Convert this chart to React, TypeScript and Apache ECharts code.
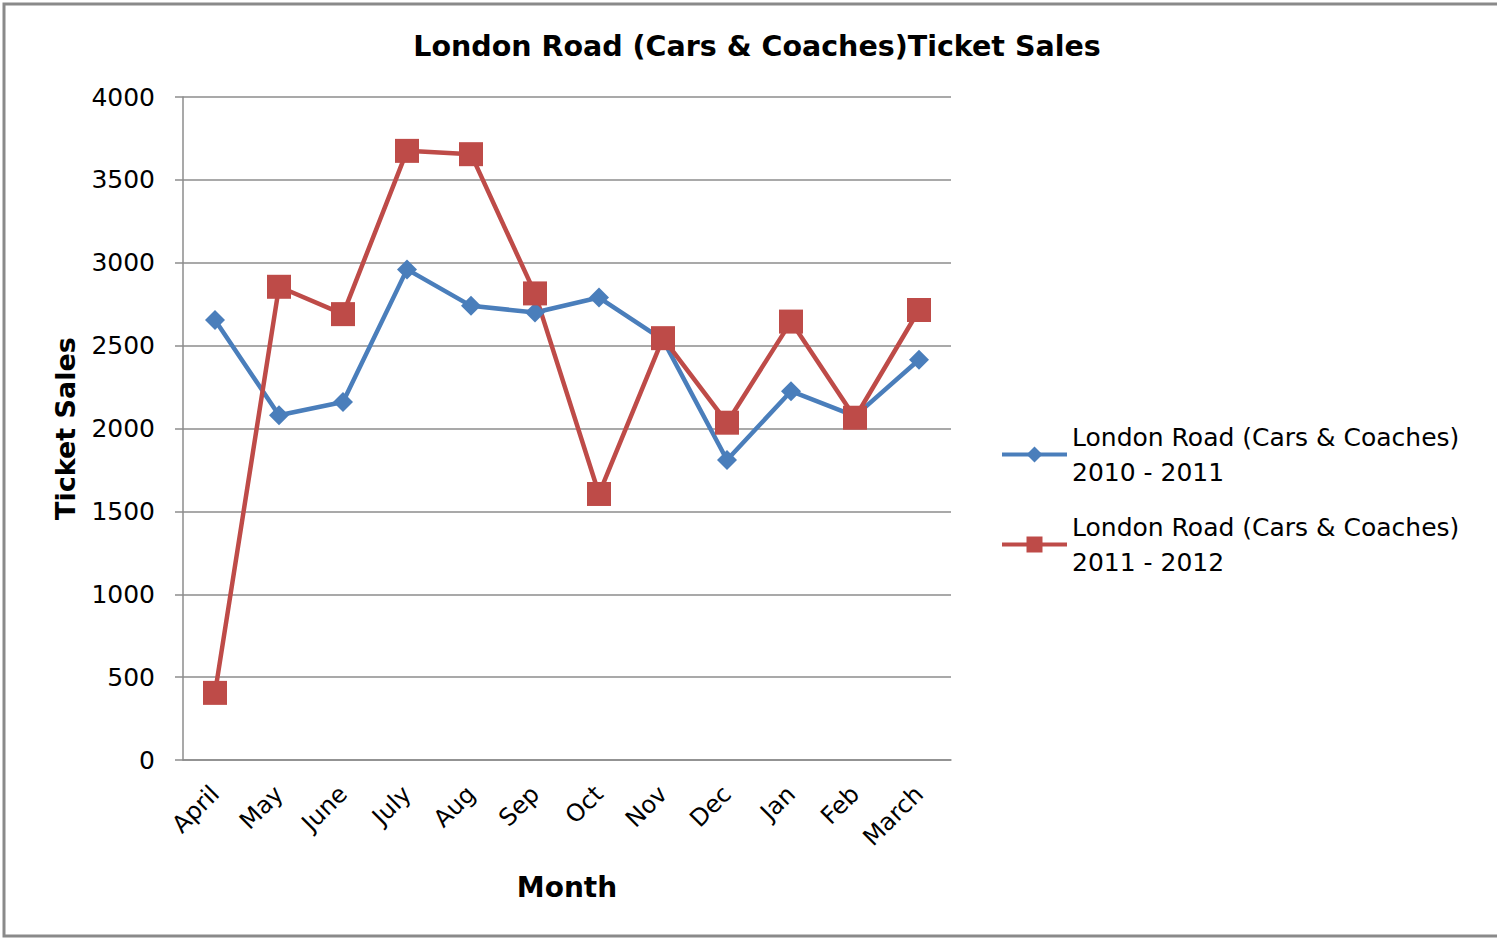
import React, { useEffect, useRef } from "react";
import * as echarts from "echarts";

const months = ["April", "May", "June", "July", "Aug", "Sep", "Oct", "Nov", "Dec", "Jan", "Feb", "March"];
const sales2010 = [2655, 2080, 2160, 2960, 2740, 2700, 2790, 2535, 1810, 2225, 2075, 2415];
const sales2011 = [405, 2855, 2690, 3675, 3655, 2815, 1605, 2545, 2035, 2645, 2065, 2715];
const seriesNames = [
  "London Road (Cars & Coaches)\n2010 - 2011",
  "London Road (Cars & Coaches)\n2011 - 2012",
];
const yTicks = { min: 0, max: 4000, interval: 500 };

const FONT = "DejaVu Sans";

export default function App() {
  const ref = useRef<HTMLDivElement>(null);
  useEffect(() => {
    if (!ref.current) return;
    const chart = echarts.init(ref.current, undefined, { renderer: "svg" });
    chart.setOption({
      animation: false,
      backgroundColor: "#ffffff",
      textStyle: { fontFamily: FONT },
      title: {
        text: "London Road (Cars & Coaches)Ticket Sales",
        left: 752,
        textAlign: "center",
        top: 27,
        textStyle: { fontFamily: FONT, fontWeight: "bold", fontSize: 28.5, color: "#000" },
      },
      graphic: [
        {
          type: "rect",
          shape: { x: 4, y: 4, width: 1520, height: 932 },
          style: { fill: "none", stroke: "#8a8a8a", lineWidth: 3 },
          silent: true,
        },
      ],
      legend: {
        orient: "vertical",
        left: 995,
        top: 397,
        itemWidth: 65,
        itemHeight: 20,
        itemGap: -15,
        data: seriesNames,
        lineStyle: { width: 4 },
        textStyle: {
          fontFamily: FONT,
          fontSize: 25,
          lineHeight: 35,
          color: "#000",
          padding: [35, 0, 0, 0],
        },
      },
      grid: { left: 183, right: 546, top: 97, bottom: 178 },
      xAxis: {
        type: "category",
        data: months,
        boundaryGap: true,
        name: "Month",
        nameLocation: "middle",
        nameGap: 113,
        nameTextStyle: { fontFamily: FONT, fontWeight: "bold", fontSize: 28, color: "#000" },
        axisLine: { lineStyle: { color: "#8c8c8c", width: 1.5 } },
        axisTick: { length: 10, lineStyle: { color: "#8c8c8c", width: 1.5 } },
        axisLabel: { rotate: 45, fontSize: 24, color: "#000", margin: 30, interval: 0 },
      },
      yAxis: {
        type: "value",
        min: yTicks.min,
        max: yTicks.max,
        interval: yTicks.interval,
        name: "Ticket Sales",
        nameLocation: "middle",
        nameGap: 104,
        nameTextStyle: { fontFamily: FONT, fontWeight: "bold", fontSize: 27, color: "#000" },
        axisLine: { show: true, lineStyle: { color: "#8c8c8c", width: 1.5 } },
        axisTick: { show: true, length: 8, lineStyle: { color: "#8c8c8c", width: 1.5 } },
        axisLabel: { fontSize: 25, color: "#000", margin: 28, formatter: (v: number) => String(v) },
        splitLine: { lineStyle: { color: "#8c8c8c", width: 1.5 } },
      },
      series: [
        {
          name: seriesNames[0],
          type: "line",
          data: sales2010,
          symbol: "diamond",
          symbolSize: 20,
          lineStyle: { color: "#4a7ebb", width: 4.5 },
          itemStyle: { color: "#4a7ebb" },
        },
        {
          name: seriesNames[1],
          type: "line",
          data: sales2011,
          symbol: "rect",
          symbolSize: 24,
          lineStyle: { color: "#be4b48", width: 4.5 },
          itemStyle: { color: "#be4b48" },
        },
      ],
    });
    return () => chart.dispose();
  }, []);
  return (
    <div
      ref={ref}
      style={{ position: "absolute", left: 0, top: 0, width: 1497, height: 938 }}
    />
  );
}
